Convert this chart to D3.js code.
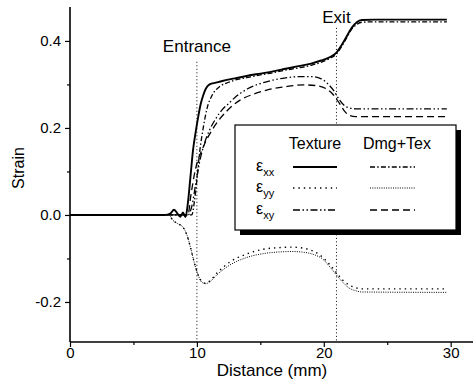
<!DOCTYPE html>
<html>
<head>
<meta charset="utf-8">
<script src="https://cdn.jsdelivr.net/npm/d3@7"></script>
<style>
  html, body { margin: 0; padding: 0; background: #fff; }
  svg { display: block; }
  text { font-family: "Liberation Sans", Arial, Helvetica, sans-serif; fill: #000; }
</style>
</head>
<body>
<svg id="chart" width="476" height="389"></svg>
<script>
// Strain components along the sample, for texture-only and damage+texture models.
// Each series is a list of [distance (mm), strain] pairs.
const textureXX = [[0,0],[7.5,0],[7.9,0.003],[8.2,0.012],[8.5,0.002],[8.7,-0.004],[8.9,0.006],[9.1,-0.005],[9.3,0.03],[9.5,0.09],[9.7,0.15],[9.9,0.19],[10.1,0.225],[10.3,0.255],[10.5,0.275],[10.7,0.29],[11.0,0.3],[11.5,0.304],[12,0.308],[13,0.314],[14,0.32],[15,0.325],[16,0.33],[17,0.336],[18,0.342],[19,0.348],[19.8,0.355],[20.5,0.363],[21,0.373],[21.4,0.39],[21.8,0.41],[22.2,0.43],[22.6,0.443],[23,0.448],[24,0.449],[29.7,0.449]];
const textureYY = [[0,0],[7.8,0],[8.1,-0.012],[8.5,-0.02],[8.9,-0.028],[9.2,-0.045],[9.5,-0.075],[9.8,-0.11],[10.1,-0.138],[10.4,-0.153],[10.7,-0.157],[11.0,-0.152],[11.6,-0.133],[12.6,-0.108],[13.9,-0.09],[15.2,-0.079],[16.5,-0.075],[17.5,-0.074],[18.5,-0.077],[19.3,-0.085],[19.9,-0.097],[20.5,-0.115],[21,-0.133],[21.5,-0.15],[22,-0.161],[22.5,-0.167],[23,-0.17],[29.7,-0.17]];
const textureXY = [[0,0],[9.3,0],[9.6,0.02],[9.9,0.07],[10.2,0.12],[10.6,0.165],[11,0.195],[11.5,0.222],[12,0.242],[12.5,0.256],[13,0.27],[14,0.29],[15,0.302],[16,0.31],[17,0.315],[18,0.318],[19,0.318],[19.8,0.313],[20.3,0.302],[20.8,0.285],[21.2,0.266],[21.6,0.252],[22,0.246],[22.5,0.244],[23,0.244],[29.7,0.244]];
const dmgTexXX = [[0,0],[9.6,0],[9.8,0.03],[10.0,0.08],[10.2,0.14],[10.5,0.2],[10.8,0.245],[11.2,0.275],[11.8,0.295],[12.5,0.305],[13,0.31],[14,0.316],[15,0.322],[16,0.327],[17,0.333],[18,0.338],[19,0.344],[19.8,0.351],[20.5,0.36],[21,0.37],[21.4,0.387],[21.8,0.407],[22.2,0.427],[22.6,0.438],[23,0.443],[24,0.444],[29.7,0.444]];
const dmgTexYY = [[0,0],[7.8,0],[8.1,-0.012],[8.5,-0.02],[8.9,-0.028],[9.2,-0.045],[9.5,-0.075],[9.8,-0.11],[10.1,-0.138],[10.4,-0.155],[10.7,-0.158],[11.0,-0.154],[11.6,-0.137],[12.6,-0.115],[13.9,-0.098],[15.2,-0.089],[16.5,-0.085],[17.5,-0.084],[18.5,-0.086],[19.3,-0.092],[19.9,-0.101],[20.5,-0.12],[21,-0.138],[21.5,-0.155],[22,-0.168],[22.5,-0.174],[23,-0.177],[29.7,-0.178]];
const dmgTexXY = [[0,0],[9.3,0],[9.5,0.04],[9.85,0.10],[10.5,0.156],[11.3,0.2],[12.4,0.24],[13.4,0.264],[14.5,0.278],[15.5,0.287],[17,0.295],[18.4,0.299],[19.5,0.297],[20.2,0.29],[20.7,0.278],[21.2,0.258],[21.6,0.24],[22,0.229],[22.5,0.226],[29.7,0.226]];

const xMajorTicks = [0, 10, 20, 30];
const xMinorTicks = [5, 15, 25];
const yMajorTicks = [-0.2, 0.0, 0.2, 0.4];
const yMinorTicks = [-0.1, 0.1, 0.3];
const markers = [{ x: 10, label: "Entrance", top: 0.352, labelY: 0.386 }, { x: 21, label: "Exit", top: 0.43, labelY: 0.452 }];
const columnTitles = ["Texture", "Dmg+Tex"];
const rowNames = ["xx", "yy", "xy"];

const svg = d3.select("#chart");
const x = d3.scaleLinear().domain([0, 31.76]).range([70, 473]);
const y = d3.scaleLinear().domain([-0.292, 0.478]).range([342, 7]);

// Line styles per series
const styles = {
  tXX: { w: 1.9, dash: null },
  tYY: { w: 1.4, dash: "1.4,4" },
  tXY: { w: 1.3, dash: "7,2.5,1.5,2.5,1.5,2.5" },
  dXX: { w: 1.3, dash: "5,2.2,1.5,2.2" },
  dYY: { w: 1.0, dash: "1,1.3" },
  dXY: { w: 1.3, dash: "7,4" }
};
const series = [
  { data: textureXX, s: styles.tXX },
  { data: dmgTexXX, s: styles.dXX },
  { data: textureYY, s: styles.tYY },
  { data: dmgTexYY, s: styles.dYY },
  { data: textureXY, s: styles.tXY },
  { data: dmgTexXY, s: styles.dXY }
];

// Entrance / exit guides
markers.forEach(m => {
  svg.append("line")
    .attr("x1", x(m.x)).attr("x2", x(m.x))
    .attr("y1", y(m.top)).attr("y2", y.range()[0])
    .attr("stroke", "#000").attr("stroke-width", 1)
    .attr("stroke-dasharray", "1,2.5");
  svg.append("text")
    .attr("x", x(m.x)).attr("y", y(m.labelY))
    .attr("text-anchor", "middle").attr("dominant-baseline", "middle")
    .attr("font-size", 17).text(m.label);
});

const line = d3.line().x(d => x(d[0])).y(d => y(d[1])).curve(d3.curveMonotoneX);
series.forEach(sr => {
  svg.append("path")
    .attr("d", line(sr.data))
    .attr("fill", "none").attr("stroke", "#000")
    .attr("stroke-width", sr.s.w)
    .attr("stroke-dasharray", sr.s.dash);
});

// Axes (left and bottom only)
const xAxis = svg.append("g").attr("transform", `translate(0,${y.range()[0]})`)
  .call(d3.axisBottom(x).tickValues(xMajorTicks).tickSize(5).tickPadding(0).tickFormat(d => String(d)));
svg.append("g").attr("transform", `translate(0,${y.range()[0]})`)
  .call(d3.axisBottom(x).tickValues(xMinorTicks).tickSize(3).tickFormat(""))
  .select(".domain").remove();
const yAxis = svg.append("g").attr("transform", `translate(${x.range()[0]},0)`)
  .call(d3.axisLeft(y).tickValues(yMajorTicks).tickSize(5).tickPadding(4).tickFormat(d => d.toFixed(1)));
svg.append("g").attr("transform", `translate(${x.range()[0]},0)`)
  .call(d3.axisLeft(y).tickValues(yMinorTicks).tickSize(3).tickFormat(""))
  .select(".domain").remove();
xAxis.select(".domain").attr("d", `M${x.range()[0]},0H${x.range()[1]}`).attr("stroke-width", 1.6);
yAxis.select(".domain").attr("d", `M0,${y.range()[0]}V${y.range()[1]}`).attr("stroke-width", 1.6);
svg.selectAll(".tick line").attr("stroke-width", 1.2);
svg.selectAll(".tick text").attr("font-size", 15).attr("font-family", '"Liberation Sans", Arial, sans-serif');

// Axis titles
svg.append("text").attr("x", 272).attr("y", 372)
  .attr("text-anchor", "middle").attr("dominant-baseline", "middle")
  .attr("font-size", 17).text("Distance (mm)");
svg.append("text").attr("transform", "translate(20,168) rotate(-90)")
  .attr("text-anchor", "middle").attr("dominant-baseline", "middle")
  .attr("font-size", 16).text("Strain");

// Legend with drop shadow
const lg = svg.append("g");
const box = { x0: 235, y0: 125, x1: 456, y1: 230 };
lg.append("rect").attr("x", box.x0 + 5).attr("y", box.y0 + 5)
  .attr("width", box.x1 - box.x0).attr("height", box.y1 - box.y0).attr("fill", "#000");
lg.append("rect").attr("x", box.x0).attr("y", box.y0)
  .attr("width", box.x1 - box.x0).attr("height", box.y1 - box.y0)
  .attr("fill", "#fff").attr("stroke", "#000").attr("stroke-width", 1.2);

const colCenters = [315, 397];
columnTitles.forEach((t, i) => {
  lg.append("text").attr("x", colCenters[i]).attr("y", 145)
    .attr("text-anchor", "middle").attr("dominant-baseline", "middle")
    .attr("font-size", 16).text(t);
});
const rowY = [167, 188, 210];
const legendStyles = [[styles.tXX, styles.dXX], [styles.tYY, styles.dYY], [styles.tXY, styles.dXY]];
rowNames.forEach((r, i) => {
  const t = lg.append("text").attr("x", 256).attr("y", rowY[i] + 4).attr("font-size", 16);
  t.append("tspan").text("ε");
  t.append("tspan").attr("dy", 5).attr("font-size", 11).text(r);
  [[293, 337], [370, 415]].forEach((seg, j) => {
    const st = legendStyles[i][j];
    lg.append("line").attr("x1", seg[0]).attr("x2", seg[1])
      .attr("y1", rowY[i]).attr("y2", rowY[i])
      .attr("stroke", "#000").attr("stroke-width", st.w)
      .attr("stroke-dasharray", st.dash);
  });
});
</script>
</body>
</html>
